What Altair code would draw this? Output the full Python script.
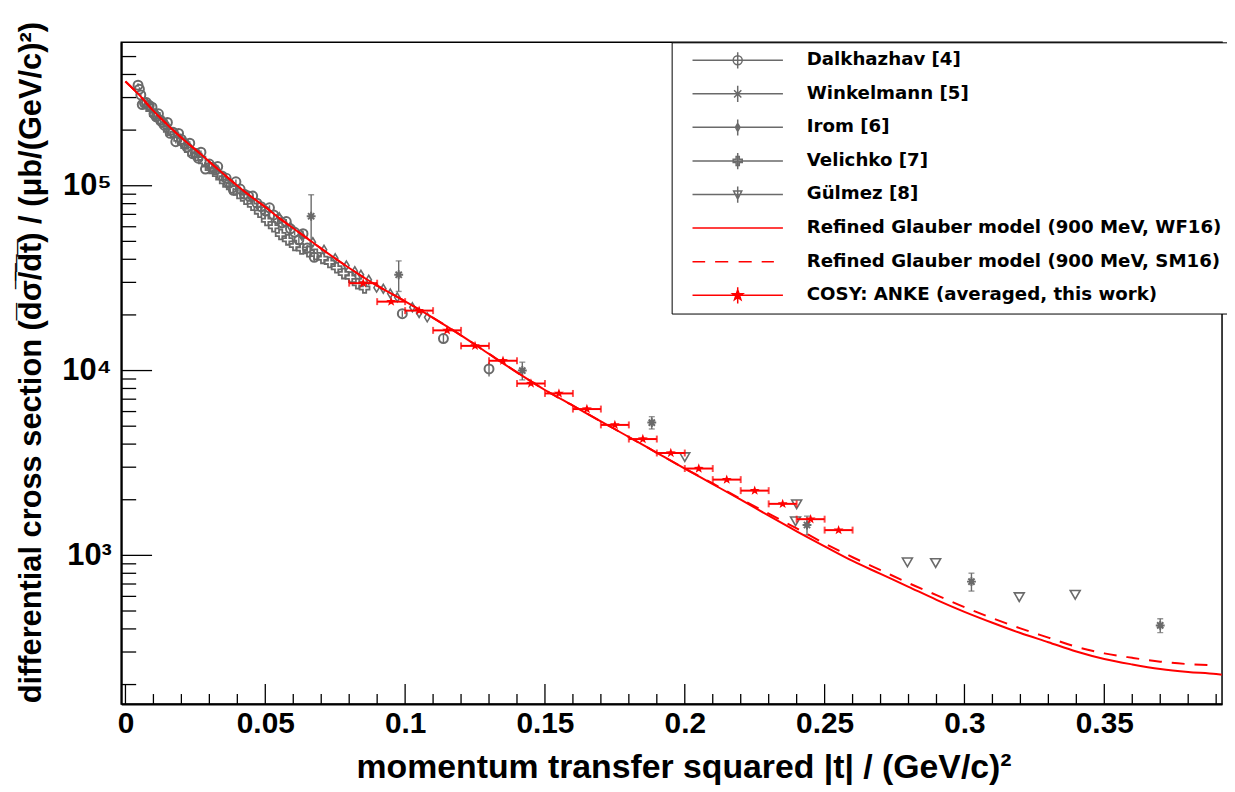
import altair as alt
import pandas as pd

# ---------------- data ----------------
# Dalkhazhav [4]  (open circles)
dal_t = [0.0045, 0.0050, 0.0055, 0.0060, 0.0068, 0.0075, 0.0085, 0.0095, 0.0102, 0.0110,
         0.0118, 0.0125, 0.0132, 0.0140, 0.0150, 0.0160, 0.0170, 0.0180, 0.0190, 0.0200,
         0.0210, 0.0220, 0.0230, 0.0240, 0.0250, 0.0260, 0.0270, 0.0286, 0.0300, 0.0310,
         0.0320, 0.0330, 0.0345, 0.0360, 0.0370, 0.0386, 0.0395, 0.0410, 0.0425, 0.0440,
         0.0455, 0.0470, 0.0485, 0.0500, 0.0515, 0.0530, 0.0545, 0.0560, 0.0575, 0.0590,
         0.0605, 0.0620, 0.0635, 0.0650, 0.0675, 0.0990, 0.1137, 0.1300]
dal_v = [3.50e5, 3.33e5, 3.10e5, 2.75e5, 2.80e5, 2.82e5, 2.72e5, 2.66e5, 2.45e5, 2.36e5,
         2.45e5, 2.26e5, 2.20e5, 2.12e5, 2.20e5, 1.92e5, 1.95e5, 1.73e5, 1.92e5, 1.78e5,
         1.70e5, 1.62e5, 1.70e5, 1.49e5, 1.50e5, 1.41e5, 1.52e5, 1.23e5, 1.31e5, 1.26e5,
         1.22e5, 1.27e5, 1.13e5, 1.10e5, 1.03e5, 9.45e4, 1.05e5, 9.60e4, 9.00e4, 8.80e4,
         8.80e4, 8.05e4, 7.70e4, 7.30e4, 7.60e4, 6.95e4, 6.60e4, 6.30e4, 6.40e4, 5.85e4,
         5.60e4, 5.10e4, 5.50e4, 4.60e4, 4.10e4, 2.03e4, 1.49e4, 1.02e4]
dal_e = [8e3, 8e3, 8e3, 7e3, 7e3, 7e3, 6e3, 6e3, 6e3, 6e3,
         5e3, 5e3, 5e3, 5e3, 5e3, 5e3, 4e3, 4e3, 4e3, 4e3,
         4e3, 4e3, 4e3, 4e3, 4e3, 4e3, 3e3, 3e3, 3e3, 3e3,
         3e3, 3e3, 3e3, 3e3, 3e3, 3e3, 3e3, 3e3, 3e3, 3e3,
         3e3, 3e3, 2.5e3, 2.5e3, 2.5e3, 2.5e3, 2.5e3, 2.5e3, 2e3, 2e3,
         2e3, 2e3, 2e3, 2e3, 2e3, 8e2, 9e2, 9e2]

# Winkelmann [5]  (asterisks)
win_t = [0.0664, 0.0977, 0.1419, 0.1882, 0.2437, 0.3025, 0.3700]
win_v = [6.84e4, 3.30e4, 1.00e4, 5.23e3, 1.46e3, 721, 418]
win_e = [2.10e4, 6.2e3, 1.1e3, 4.0e2, 1.7e2, 80, 36]

# Irom [6]  (open diamonds)
iro_t = [0.0550, 0.0590, 0.0630, 0.0670, 0.0710, 0.0750, 0.0790, 0.0820, 0.0842, 0.0870,
         0.0898, 0.0922, 0.0947, 0.0972, 0.1026, 0.1050, 0.1079]
iro_v = [6.75e4, 6.00e4, 5.40e4, 4.95e4, 4.50e4, 4.05e4, 3.70e4, 3.45e4, 3.30e4, 3.10e4,
         2.81e4, 2.77e4, 2.61e4, 2.49e4, 2.20e4, 2.05e4, 1.94e4]

# Velichko [7]  (open crosses)
vel_t = [0.0080, 0.0105, 0.0130, 0.0155, 0.0180, 0.0205, 0.0230, 0.0255, 0.0280, 0.0305,
         0.0330, 0.0355, 0.0380, 0.0405, 0.0430, 0.0455, 0.0480, 0.0505, 0.0530, 0.0555,
         0.0580, 0.0605, 0.0630, 0.0655, 0.0680, 0.0705, 0.0730, 0.0755, 0.0780, 0.0805,
         0.0830, 0.0855]
vel_v = [2.70e5, 2.43e5, 2.22e5, 2.00e5, 1.86e5, 1.70e5, 1.55e5, 1.46e5, 1.35e5, 1.24e5,
         1.15e5, 1.05e5, 9.75e4, 9.10e4, 8.45e4, 7.85e4, 7.20e4, 6.50e4, 6.00e4, 5.45e4,
         5.10e4, 4.75e4, 4.55e4, 4.40e4, 4.25e4, 4.05e4, 3.85e4, 3.60e4, 3.35e4, 3.20e4,
         2.95e4, 2.80e4]

# Gülmez [8]  (open down-triangles)
gul_t = [0.2000, 0.2400, 0.2396, 0.2796, 0.2897, 0.3196, 0.3396]
gul_v = [3.40e3, 1.89e3, 1.53e3, 917, 909, 594, 612]

# COSY: ANKE (averaged, this work)
ank_t = [0.085, 0.095, 0.105, 0.115, 0.125, 0.135, 0.145, 0.155, 0.165,
         0.175, 0.185, 0.195, 0.205, 0.215, 0.225, 0.235, 0.245, 0.255]
ank_v = [2.97e4, 2.36e4, 2.11e4, 1.65e4, 1.36e4, 1.13e4, 8.51e3, 7.52e3, 6.19e3,
         5.08e3, 4.26e3, 3.58e3, 2.95e3, 2.57e3, 2.24e3, 1.90e3, 1.57e3, 1.37e3]
ank_dt = 0.005

# Refined Glauber model (900 MeV, WF16) - solid
wf_t = [0.0, 0.005, 0.01, 0.015, 0.02, 0.025, 0.03, 0.035, 0.04, 0.045, 0.05, 0.055,
        0.06, 0.065, 0.07, 0.08, 0.09, 0.10, 0.11, 0.12, 0.13, 0.14, 0.15, 0.16, 0.17,
        0.18, 0.19, 0.20, 0.21, 0.22, 0.23, 0.24, 0.25, 0.26, 0.27, 0.28, 0.29, 0.30,
        0.31, 0.32, 0.33, 0.34, 0.35, 0.36, 0.37, 0.38, 0.39, 0.392]
wf_v = [3.67e5, 3.09e5, 2.54e5, 2.14e5, 1.82e5, 1.57e5, 1.35e5, 1.16e5, 1.00e5, 8.71e4,
        7.67e4, 6.68e4, 5.89e4, 5.19e4, 4.57e4, 3.59e4, 2.88e4, 2.37e4, 1.93e4, 1.55e4,
        1.23e4, 9.77e3, 7.85e3, 6.46e3, 5.31e3, 4.37e3, 3.59e3, 2.95e3, 2.43e3, 2.00e3,
        1.64e3, 1.35e3, 1.12e3, 933, 794, 676, 575, 495, 432, 380, 339, 302, 275, 257,
        243, 234, 228, 226]

# Refined Glauber model (900 MeV, SM16) - dashed
sm_t = [0.0, 0.005, 0.01, 0.015, 0.02, 0.025, 0.03, 0.035, 0.04, 0.045, 0.05, 0.055,
        0.06, 0.065, 0.07, 0.08, 0.09, 0.10, 0.11, 0.12, 0.13, 0.14, 0.15, 0.16, 0.17,
        0.18, 0.19, 0.20, 0.21, 0.22, 0.23, 0.24, 0.25, 0.26, 0.27, 0.28, 0.29, 0.30,
        0.31, 0.32, 0.33, 0.34, 0.35, 0.36, 0.37, 0.38, 0.39]
sm_v = [3.67e5, 3.09e5, 2.54e5, 2.14e5, 1.82e5, 1.57e5, 1.35e5, 1.16e5, 1.00e5, 8.71e4,
        7.67e4, 6.68e4, 5.89e4, 5.19e4, 4.57e4, 3.59e4, 2.88e4, 2.37e4, 1.93e4, 1.55e4,
        1.23e4, 9.77e3, 7.85e3, 6.46e3, 5.31e3, 4.37e3, 3.59e3, 2.95e3, 2.45e3, 2.02e3,
        1.68e3, 1.40e3, 1.16e3, 977, 832, 708, 610, 525, 457, 403, 359, 320, 295, 279,
        266, 258, 254]

# axis ticks
x_major = [0.0, 0.05, 0.10, 0.15, 0.20, 0.25, 0.30, 0.35]
x_minor = [0.01, 0.02, 0.03, 0.04, 0.06, 0.07, 0.08, 0.09, 0.11, 0.12, 0.13, 0.14,
           0.16, 0.17, 0.18, 0.19, 0.21, 0.22, 0.23, 0.24, 0.26, 0.27, 0.28, 0.29,
           0.31, 0.32, 0.33, 0.34, 0.36, 0.37, 0.38, 0.39]
y_major = [1e3, 1e4, 1e5]
y_minor = [200, 300, 400, 500, 600, 700, 800, 900,
           2e3, 3e3, 4e3, 5e3, 6e3, 7e3, 8e3, 9e3,
           2e4, 3e4, 4e4, 5e4, 6e4, 7e4, 8e4, 9e4,
           2e5, 3e5, 4e5, 5e5]

legend_names = ["Dalkhazhav [4]", "Winkelmann [5]", "Irom [6]", "Velichko [7]", "Gülmez [8]",
                "Refined Glauber model (900 MeV, WF16)",
                "Refined Glauber model (900 MeV, SM16)",
                "COSY: ANKE (averaged, this work)"]

# ---------------- styles ----------------
GRAY = "#6a6a6a"
RED = "#ff0000"
FONT = "DejaVu Sans"
AXFONT = "Liberation Sans"

P_ASTER = "M-1,0L1,0M0,-1L0,1M-0.7,-0.7L0.7,0.7M-0.7,0.7L0.7,-0.7"
P_DIAM = "M0,-1L0.6,0L0,1L-0.6,0Z"
P_CROSS = ("M-1,-0.33L-0.33,-0.33L-0.33,-1L0.33,-1L0.33,-0.33L1,-0.33L1,0.33L0.33,0.33"
           "L0.33,1L-0.33,1L-0.33,0.33L-1,0.33Z")
P_STAR = ("M0,-1L0.235,-0.324L0.951,-0.309L0.38,0.124L0.588,0.809L0,0.4L-0.588,0.809"
          "L-0.38,0.124L-0.951,-0.309L-0.235,-0.324Z")

# legend symbols: line segment + marker (unit box -1..1)
L_BAR = "M-1,0L1,0M0,-0.2L0,0.2"
legend_paths = [
    L_BAR + "M0.1,0A0.1,0.1 0 1,1 -0.1,0A0.1,0.1 0 1,1 0.1,0",
    L_BAR + "M-0.08,-0.08L0.08,0.08M-0.08,0.08L0.08,-0.08",
    L_BAR + "M0,-0.09L0.05,0L0,0.09L-0.05,0Z",
    L_BAR + ("M-0.1,-0.035L-0.035,-0.035L-0.035,-0.1L0.035,-0.1L0.035,-0.035L0.1,-0.035"
             "L0.1,0.035L0.035,0.035L0.035,0.1L-0.035,0.1L-0.035,0.035L-0.1,0.035Z"),
    L_BAR + "M-0.09,-0.08L0.09,-0.08L0,0.1Z",
    "M-1,0L1,0",
    "M-1,0L-0.72,0M-0.5,0L-0.21,0M0.02,0L0.31,0M0.53,0L0.8,0",
    "M-1,0L1,0M0,-0.2L0,0.2M0,-0.12L0.028,-0.039L0.114,-0.037L0.046,0.015L0.071,0.097"
    "L0,0.048L-0.071,0.097L-0.046,0.015L-0.114,-0.037L-0.028,-0.039Z",
]
legend_strokes = [GRAY] * 5 + [RED] * 3
legend_fills = ["transparent"] * 7 + [RED]

# ---------------- frames ----------------
dal = pd.DataFrame({"t": dal_t, "v": dal_v, "e": dal_e})
dal["lo"] = dal["v"] - dal["e"]
dal["hi"] = dal["v"] + dal["e"]
win = pd.DataFrame({"t": win_t, "v": win_v, "e": win_e})
win["lo"] = win["v"] - win["e"]
win["hi"] = win["v"] + win["e"]
iro = pd.DataFrame({"t": iro_t, "v": iro_v})
vel = pd.DataFrame({"t": vel_t, "v": vel_v})
gul = pd.DataFrame({"t": gul_t, "v": gul_v})
ank = pd.DataFrame({"t": ank_t, "v": ank_v})
ank["lo"] = ank["t"] - ank_dt
ank["hi"] = ank["t"] + ank_dt
wf = pd.DataFrame({"t": wf_t, "v": wf_v})
sm = pd.DataFrame({"t": sm_t, "v": sm_v})
xmaj = pd.DataFrame({"t": x_major})
xmin = pd.DataFrame({"t": x_minor})
ymaj = pd.DataFrame({"v": y_major})
ymin = pd.DataFrame({"v": y_minor})
leg = pd.DataFrame({"name": legend_names, "t": [-1.0] * 8, "v": [1.0] * 8})

# ---------------- scales / axes ----------------
XS = alt.Scale(domain=[-0.0015, 0.3921], nice=False, zero=False)
YS = alt.Scale(type="log", domain=[157, 597000], nice=False)

XAX = alt.Axis(values=x_major, labelExpr="datum.value == 0 ? '0' : format(datum.value, '.2~f')",
               title="momentum transfer squared |t| / (GeV/c)²", ticks=False, grid=False,
               domainColor="black", domainWidth=2, labelFont=AXFONT, labelFontWeight="bold",
               labelFontSize=30, labelColor="black", labelPadding=5, labelFlush=False,
               labelOverlap=False, titleFont=AXFONT, titleFontWeight="bold", titleFontSize=34,
               titleColor="black", titlePadding=12, titleX=566)
YAX = alt.Axis(values=y_major,
               labelExpr="'10' + (datum.value < 5000 ? '³' : datum.value < 50000 ? '⁴' : '⁵')",
               title="differential cross section (d\u0305σ\u0305/\u0305d\u0305t\u0305) / (μb/(GeV/c)²)",
               ticks=False, grid=False, domainColor="black", domainWidth=2, labelFont=AXFONT,
               labelFontWeight="bold", labelFontSize=31, labelColor="black", labelPadding=10,
               labelFlush=False, labelOverlap=False, titleFont=AXFONT, titleFontWeight="bold",
               titleFontSize=31, titleColor="black", titlePadding=14, titleY=322)


def X(field="t"):
    return alt.X(f"{field}:Q", scale=XS, axis=XAX)


def Y(field="v"):
    return alt.Y(f"{field}:Q", scale=YS, axis=YAX)


layers = []
# gray error bars
for df in (dal, win):
    layers.append(alt.Chart(df).mark_rule(color=GRAY, strokeWidth=1.4, clip=True).encode(
        x=X(), y=Y("lo"), y2="hi"))
layers.append(alt.Chart(win).mark_tick(color=GRAY, orient="horizontal", size=6, thickness=1.4,
                                       clip=True).encode(x=X(), y=Y("hi")))
layers.append(alt.Chart(win).mark_tick(color=GRAY, orient="horizontal", size=6, thickness=1.4,
                                       clip=True).encode(x=X(), y=Y("lo")))
# gray markers
layers.append(alt.Chart(vel).mark_point(shape=P_CROSS, size=100, filled=False, color=GRAY,
                                        strokeWidth=1.8, opacity=1, clip=True).encode(x=X(), y=Y()))
layers.append(alt.Chart(dal).mark_point(shape="circle", size=81, filled=False, color=GRAY,
                                        strokeWidth=2, opacity=1, clip=True).encode(x=X(), y=Y()))
layers.append(alt.Chart(iro).mark_point(shape=P_DIAM, size=80, filled=False, color=GRAY,
                                        strokeWidth=1.6, opacity=1, clip=True).encode(x=X(), y=Y()))
layers.append(alt.Chart(win).mark_point(shape=P_ASTER, size=80, filled=False, color=GRAY,
                                        strokeWidth=2, opacity=1, clip=True).encode(x=X(), y=Y()))
layers.append(alt.Chart(gul).mark_point(shape="triangle-down", size=100, filled=False, color=GRAY,
                                        strokeWidth=1.6, opacity=1, clip=True).encode(x=X(), y=Y()))
# model curves
layers.append(alt.Chart(sm).mark_line(color=RED, strokeWidth=2, strokeDash=[13, 10],
                                      interpolate="monotone", clip=True).encode(x=X(), y=Y()))
layers.append(alt.Chart(wf).mark_line(color=RED, strokeWidth=2, interpolate="monotone",
                                      clip=True).encode(x=X(), y=Y()))
# ANKE
layers.append(alt.Chart(ank).mark_rule(color=RED, strokeWidth=2, clip=True).encode(
    x=X("lo"), x2="hi", y=Y()))
layers.append(alt.Chart(ank).mark_tick(color=RED, orient="vertical", size=7, thickness=2,
                                       clip=True).encode(x=X("lo"), y=Y()))
layers.append(alt.Chart(ank).mark_tick(color=RED, orient="vertical", size=7, thickness=2,
                                       clip=True).encode(x=X("hi"), y=Y()))
layers.append(alt.Chart(ank).mark_point(shape=P_STAR, size=110, filled=True, color=RED,
                                        opacity=1, clip=True).encode(x=X(), y=Y()))
# inward axis ticks
layers.append(alt.Chart(xmaj).mark_rule(color="black", strokeWidth=1.3).encode(
    x=X(), y=alt.value(666), y2=alt.value(646)))
layers.append(alt.Chart(xmin).mark_rule(color="black", strokeWidth=1.3).encode(
    x=X(), y=alt.value(666), y2=alt.value(656)))
layers.append(alt.Chart(ymaj).mark_rule(color="black", strokeWidth=1.3).encode(
    y=Y(), x=alt.value(0), x2=alt.value(31)))
layers.append(alt.Chart(ymin).mark_rule(color="black", strokeWidth=1.3).encode(
    y=Y(), x=alt.value(0), x2=alt.value(15)))

# legend carrier (points lie outside the plotted range and are clipped)
LEG = alt.Legend(title=None, orient="none", legendX=554, legendY=0, padding=10,
                 symbolSize=8281, symbolStrokeWidth=1.5, symbolOffset=10, clipHeight=16,
                 labelFont=FONT, labelFontWeight="bold", labelFontSize=18.3,
                 labelColor="black", labelLimit=600, labelOffset=23, rowPadding=14.8,
                 strokeColor="black", fillColor="white", cornerRadius=0)
layers.append(alt.Chart(leg).mark_point(clip=True, strokeWidth=1.5, opacity=1).encode(
    x=X(), y=Y(),
    shape=alt.Shape("name:N", scale=alt.Scale(domain=legend_names, range=legend_paths), legend=LEG),
    stroke=alt.Stroke("name:N", scale=alt.Scale(domain=legend_names, range=legend_strokes), legend=LEG),
    fill=alt.Fill("name:N", scale=alt.Scale(domain=legend_names, range=legend_fills), legend=LEG),
))

chart = alt.layer(*layers).properties(
    width=1108, height=666,
    padding={"left": 114, "top": 32, "right": 5, "bottom": 80},
    autosize=alt.AutoSizeParams(type="none"),
    background="white",
).configure_view(stroke="black", strokeWidth=1.5)

chart.save("out.html", embed_options={"renderer": "svg", "actions": False})
